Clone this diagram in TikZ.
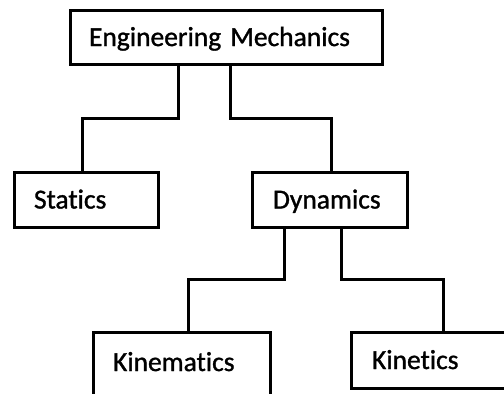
\documentclass[tikz,border=0pt]{standalone}
\usepackage{fontspec}
\setmainfont{Carlito}[Ligatures=NoCommon, FakeBold=1.2]
\begin{document}
\begin{tikzpicture}[x=1pt,y=-1pt,
  box/.style={draw=black, line width=3pt, outer sep=0pt, anchor=north west,
    align=left, text height=18pt, text depth=0pt, inner ysep=0pt,
    font=\fontsize{27.5}{30}\selectfont},
  link/.style={draw=black, line width=3pt}]
\useasboundingbox (0,0) rectangle (504,394);
\clip (0,0) rectangle (504,394);
\fill[white] (0,0) rectangle (504,394);
\node[box, inner xsep=19pt, text width=274pt, minimum height=54pt] (em) at (70,10) {Engineering Mechanics};
\node[box, inner xsep=20pt, text width=104pt, minimum height=55pt] (st) at (14,172) {Statics};
\node[box, inner xsep=21pt, text width=113pt, minimum height=55pt] (dy) at (252,172) {Dynamics};
\node[box, inner xsep=20pt, text width=137pt, inner ysep=21pt, text depth=30pt] (km) at (93,332) {Kinematics};
\node[box, inner xsep=21pt, text width=142pt, minimum height=56pt] (kt) at (351,332) {Kinetics};
\coordinate (j1) at (178,118);
\coordinate (j2) at (230,118);
\coordinate (j3) at (284,279);
\coordinate (j4) at (341,279);
\draw[link] (em.south -| j1) -- (j1) -| ([xshift=-4pt]st.north);
\draw[link] (em.south -| j2) -- (j2) -| ([xshift=1.5pt]dy.north);
\draw[link] (dy.south -| j3) -- (j3) -| ([xshift=6.5pt]km.north);
\draw[link] (dy.south -| j4) -- (j4) -| (kt.north);
\end{tikzpicture}
\end{document}
